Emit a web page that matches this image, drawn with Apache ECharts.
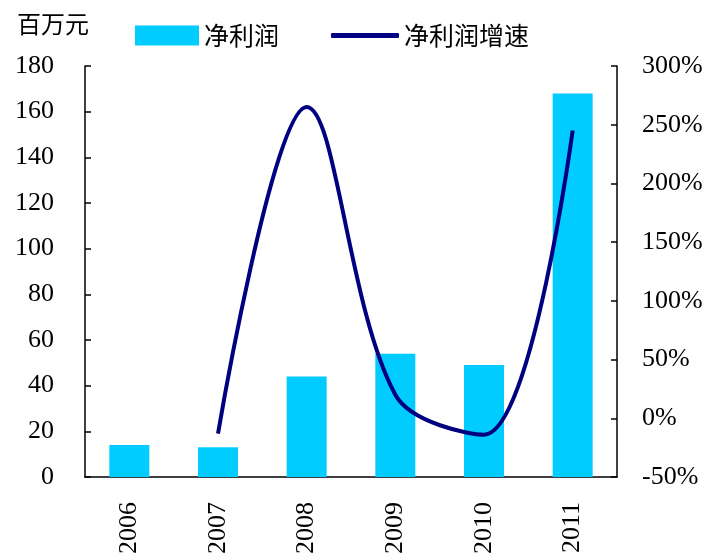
<!DOCTYPE html>
<html><head><meta charset="utf-8">
<script src="https://cdn.jsdelivr.net/npm/echarts@6/dist/echarts.min.js"></script>
<style>html,body{margin:0;padding:0;background:#fff}#c{width:716px;height:560px}</style>
</head><body><div id="c"></div>
<script>
var categories = ['2006', '2007', '2008', '2009', '2010', '2011'];
var profit = [14, 13, 44, 54, 49, 168];
var growth = ['-', -13, 265, 20, -14, 245];
var leftTicks = {min: 0, max: 180, interval: 20};
var rightTicks = {min: -50, max: 300, interval: 50};

var serif = 'Liberation Serif';
var cjk = 'Noto Sans CJK SC';
var chart = echarts.init(document.getElementById('c'));
chart.setOption({
  animation: false,
  backgroundColor: '#fff',
  title: {text: '百万元', left: 12, top: 7, textStyle: {fontFamily: cjk, fontSize: 24, fontWeight: 'normal', color: '#000'}},
  legend: [
    {data: ['净利润'], left: 135, top: 23, itemWidth: 64, itemHeight: 20, icon: 'rect', padding: 0,
     textStyle: {fontFamily: cjk, fontSize: 25, color: '#000'}},
    {data: ['净利润增速'], left: 331, top: 23, itemWidth: 68, itemHeight: 5, icon: 'roundRect', padding: 0,
     textStyle: {fontFamily: cjk, fontSize: 25, color: '#000'}}
  ],
  grid: {left: 85, right: 99, top: 66, bottom: 83},
  xAxis: {
    type: 'category', data: categories, boundaryGap: true,
    axisLine: {lineStyle: {color: '#000', width: 1.5}},
    axisTick: {inside: true, length: 6, lineStyle: {color: '#000', width: 1.5}},
    axisLabel: {rotate: 90, margin: 25, fontFamily: serif, fontSize: 26, color: '#000'}
  },
  yAxis: [
    {type: 'value', min: leftTicks.min, max: leftTicks.max, interval: leftTicks.interval,
     splitLine: {show: false},
     axisLine: {show: true, lineStyle: {color: '#000', width: 1.5}},
     axisTick: {show: true, inside: true, length: 6, lineStyle: {color: '#000', width: 1.5}},
     axisLabel: {margin: 31, fontFamily: serif, fontSize: 26, color: '#000'}},
    {type: 'value', min: rightTicks.min, max: rightTicks.max, interval: rightTicks.interval,
     splitLine: {show: false},
     axisLine: {show: true, lineStyle: {color: '#000', width: 1.5}},
     axisTick: {show: true, inside: true, length: 6, lineStyle: {color: '#000', width: 1.5}},
     axisLabel: {margin: 25, formatter: '{value}%', fontFamily: serif, fontSize: 26, color: '#000'}}
  ],
  series: [
    {name: '净利润', type: 'bar', data: profit, barWidth: 40, itemStyle: {color: '#00CCFF'}, yAxisIndex: 0},
    {name: '净利润增速', type: 'line', data: growth, yAxisIndex: 1, smooth: 0.35, showSymbol: false,
     symbol: 'none', lineStyle: {color: '#000080', width: 4}, itemStyle: {color: '#000080'}}
  ]
});
</script></body></html>
